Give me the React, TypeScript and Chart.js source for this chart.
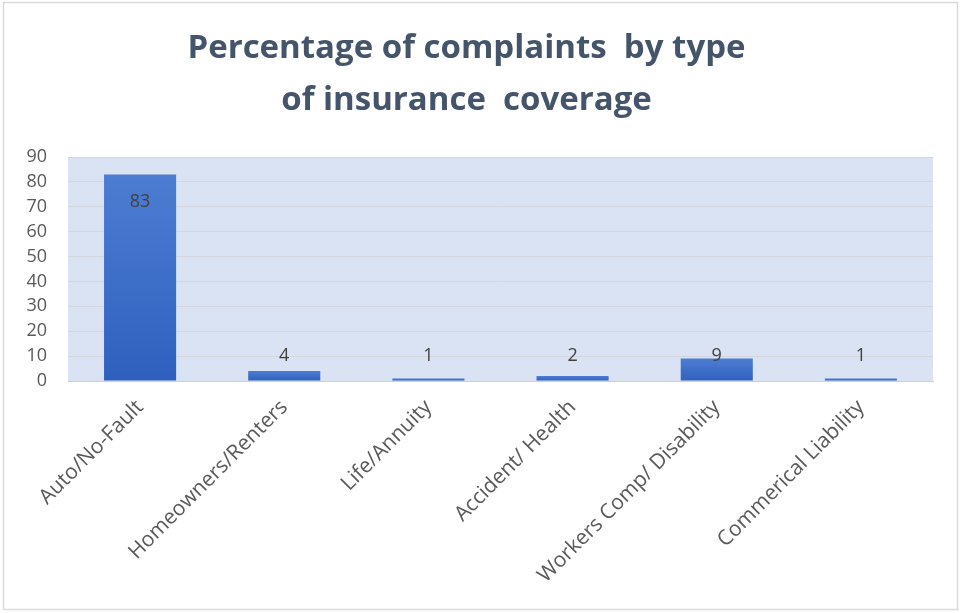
import React, { useEffect, useRef } from "react";
import { Chart, registerables } from "chart.js";

Chart.register(...registerables);

// Coverage types and share of complaints (%)
const categories = [
  "Auto/No-Fault",
  "Homeowners/Renters",
  "Life/Annuity",
  "Accident/ Health",
  "Workers Comp/ Disability",
  "Commerical Liability",
];
const complaintShare = [83, 4, 1, 2, 9, 1];

const titleLines = ["Percentage of complaints  by type", "of insurance  coverage"];
const yMin = 0;
const yMax = 90;
const yStep = 10;

const FONT = '"Open Sans", "Noto Sans", sans-serif';

// White card with a thin grey frame behind everything
const framePlugin = {
  id: "frame",
  beforeDraw(chart: any) {
    const { ctx, width, height } = chart;
    ctx.save();
    ctx.fillStyle = "#ffffff";
    ctx.fillRect(0, 0, width, height);
    ctx.strokeStyle = "#d9d9d9";
    ctx.lineWidth = 1.5;
    ctx.strokeRect(3.5, 2.5, width - 7, height - 6);
    ctx.restore();
  },
};

// Pale blue plot area fill
const plotFillPlugin = {
  id: "plotFill",
  beforeDraw(chart: any) {
    const { ctx, chartArea } = chart;
    if (!chartArea) return;
    ctx.save();
    ctx.fillStyle = "#dae3f3";
    ctx.fillRect(chartArea.left, chartArea.top, chartArea.right - chartArea.left, chartArea.bottom - chartArea.top);
    ctx.restore();
  },
};

// Value labels: inside the tall bar, in a row above the short ones
const valueLabelPlugin = {
  id: "valueLabels",
  afterDatasetsDraw(chart: any) {
    const { ctx } = chart;
    const meta = chart.getDatasetMeta(0);
    const yScale = chart.scales.y;
    ctx.save();
    ctx.font = `18px ${FONT}`;
    ctx.fillStyle = "#404040";
    ctx.textAlign = "center";
    ctx.textBaseline = "middle";
    meta.data.forEach((bar: any, i: number) => {
      const v = complaintShare[i];
      const inside = v > 50;
      const ty = inside ? bar.y + 27 : yScale.getPixelForValue(10);
      ctx.fillText(String(v), bar.x, ty);
    });
    ctx.restore();
  },
};

export default function App() {
  const canvasRef = useRef<HTMLCanvasElement | null>(null);

  useEffect(() => {
    document.body.style.margin = "0";
    const canvas = canvasRef.current;
    if (!canvas) return;

    const chart = new Chart(canvas, {
      type: "bar",
      data: {
        labels: categories,
        datasets: [
          {
            data: complaintShare,
            backgroundColor: (c: any) => {
              const ch = c.chart;
              const y = ch.scales?.y;
              if (!y || !ch.chartArea || c.dataIndex === undefined) return "#3f6fcc";
              const top = y.getPixelForValue(complaintShare[c.dataIndex]);
              const bottom = y.getPixelForValue(0);
              if (!isFinite(top) || !isFinite(bottom) || bottom - top < 1) return "#3f6fcc";
              const g = ch.ctx.createLinearGradient(0, top, 0, bottom);
              g.addColorStop(0, "#4d7dd2");
              g.addColorStop(1, "#2f60be");
              return g;
            },
            borderWidth: 0,
            categoryPercentage: 1,
            barPercentage: 0.5,
          },
        ],
      },
      options: {
        responsive: false,
        animation: false,
        layout: { padding: { top: 0, left: 0, right: 28, bottom: 0 } },
        plugins: {
          legend: { display: false },
          tooltip: { enabled: false },
          title: {
            display: true,
            text: titleLines,
            color: "#44546a",
            font: { family: FONT, size: 33, weight: "700", lineHeight: 52 / 33 },
            padding: { top: 23, bottom: 30 },
          },
        },
        scales: {
          x: {
            grid: { display: false },
            border: { display: true, color: "#d0d0d0", width: 1 },
            ticks: {
              color: "#595959",
              font: { family: FONT, size: 21 },
              minRotation: 45,
              maxRotation: 45,
              padding: 6,
            },
            afterFit(scale: any) {
              scale.height = 613 - 381;
            },
          },
          y: {
            min: yMin,
            max: yMax,
            border: { display: false },
            grid: { color: "#d3d6dc", lineWidth: 1, drawTicks: false },
            ticks: {
              stepSize: yStep,
              autoSkip: false,
              color: "#595959",
              font: { family: FONT, size: 18 },
              padding: 21,
            },
            afterFit(scale: any) {
              scale.width = 68;
            },
          },
        },
      },
      plugins: [framePlugin, plotFillPlugin, valueLabelPlugin],
    });

    return () => chart.destroy();
  }, []);

  return <canvas ref={canvasRef} width={961} height={613} style={{ display: "block" }} />;
}
